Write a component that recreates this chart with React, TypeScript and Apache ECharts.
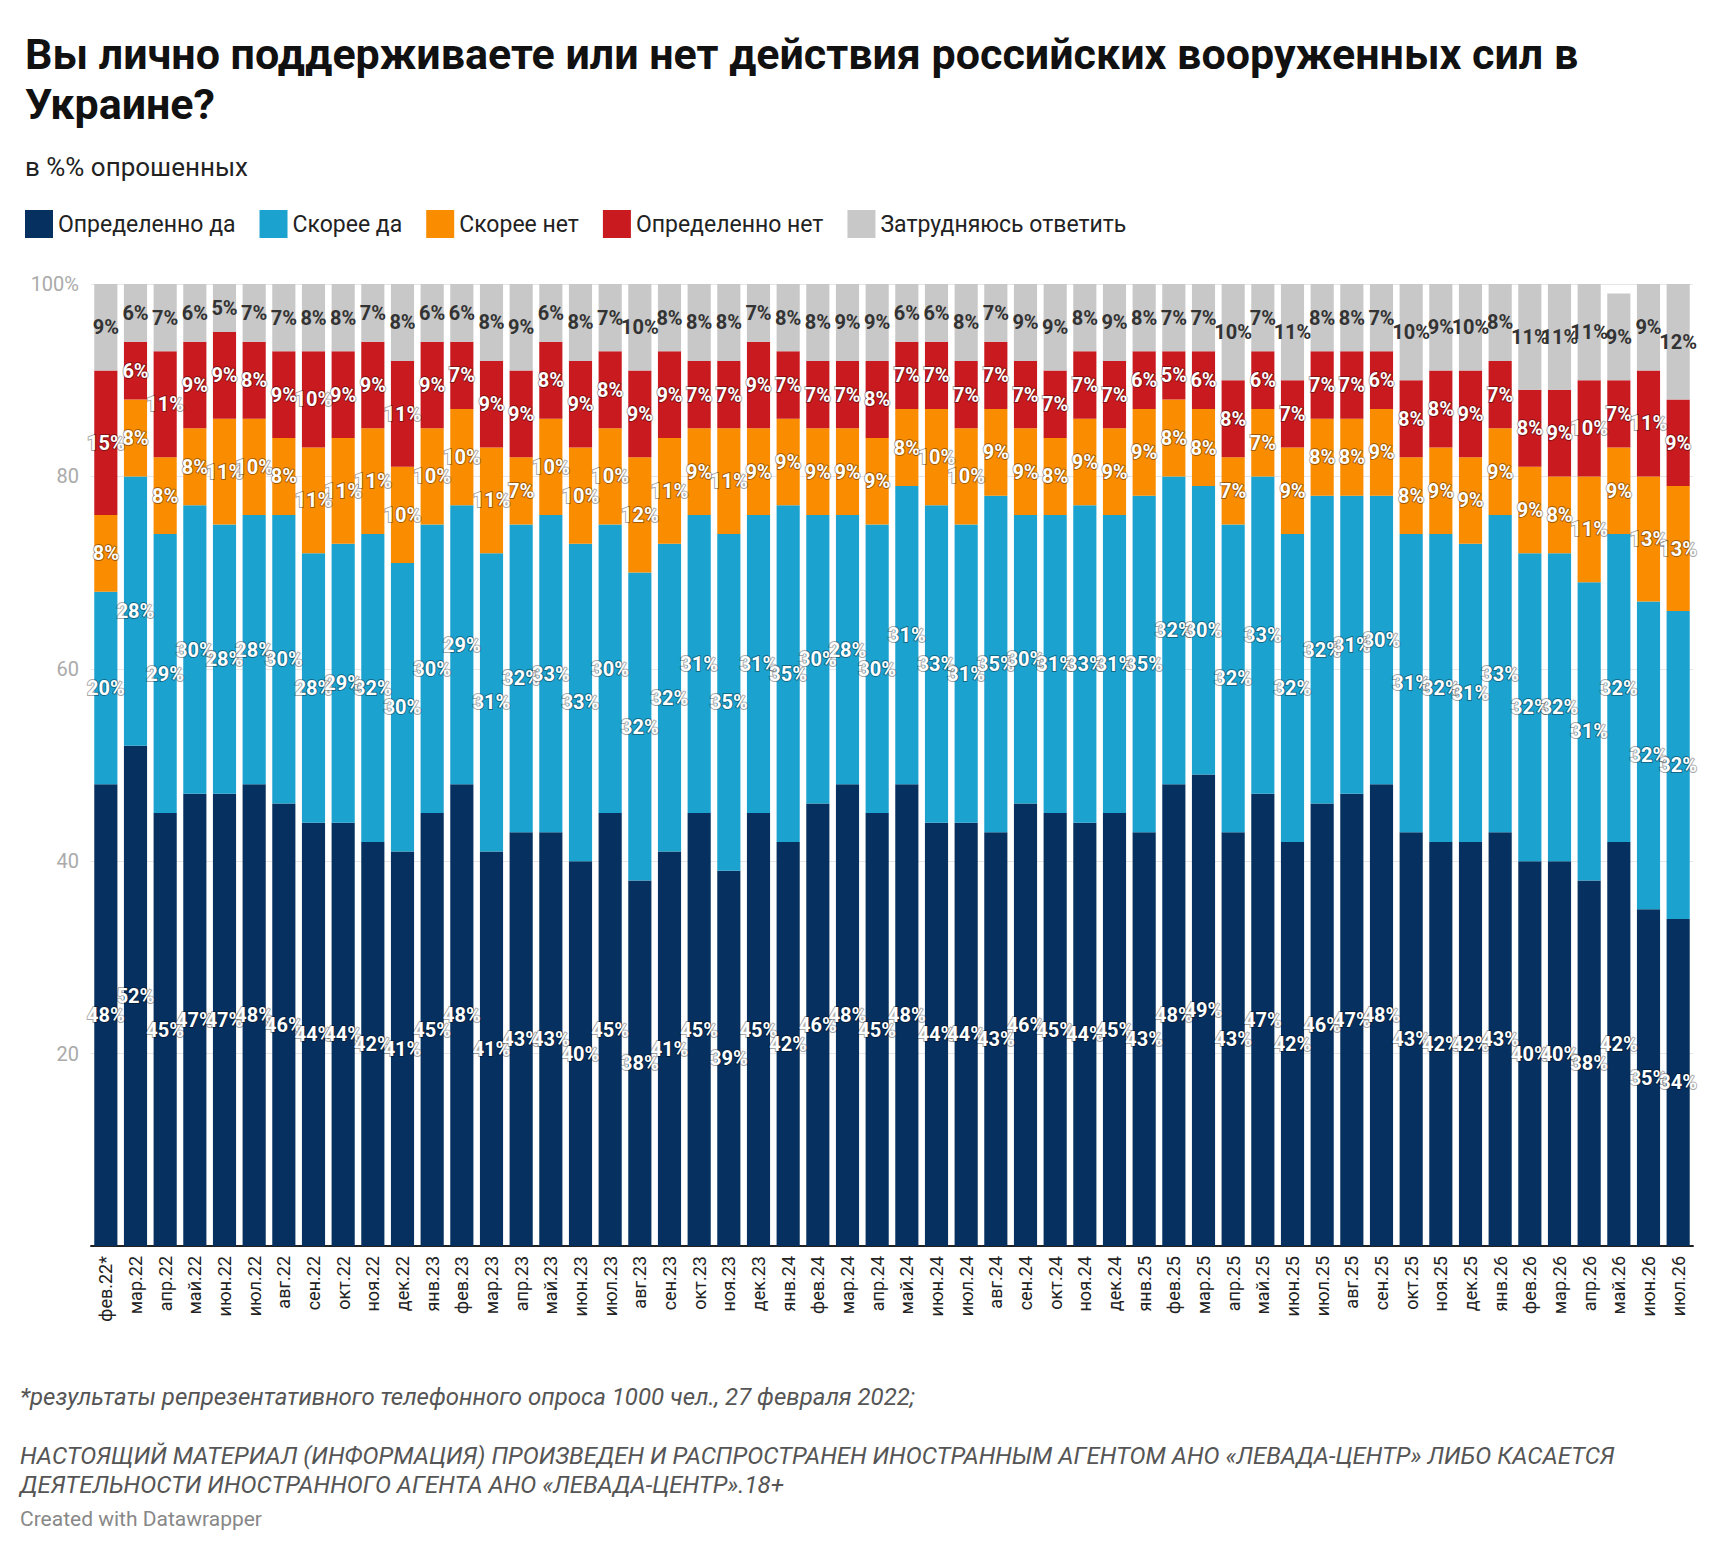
import React, { useEffect, useRef } from "react";
import * as echarts from "echarts";

const months = [
  "фев.22*", "мар.22", "апр.22", "май.22", "июн.22", "июл.22", "авг.22", "сен.22", "окт.22", "ноя.22", "дек.22",
  "янв.23", "фев.23", "мар.23", "апр.23", "май.23", "июн.23", "июл.23", "авг.23", "сен.23", "окт.23", "ноя.23", "дек.23",
  "янв.24", "фев.24", "мар.24", "апр.24", "май.24", "июн.24", "июл.24", "авг.24", "сен.24", "окт.24", "ноя.24", "дек.24",
  "янв.25", "фев.25", "мар.25", "апр.25", "май.25", "июн.25", "июл.25", "авг.25", "сен.25", "окт.25", "ноя.25", "дек.25",
  "янв.26", "фев.26", "мар.26", "апр.26", "май.26", "июн.26", "июл.26",
];

const definitelyYes = [48, 52, 45, 47, 47, 48, 46, 44, 44, 42, 41, 45, 48, 41, 43, 43, 40, 45, 38, 41, 45, 39, 45, 42, 46, 48, 45, 48, 44, 44, 43, 46, 45, 44, 45, 43, 48, 49, 43, 47, 42, 46, 47, 48, 43, 42, 42, 43, 40, 40, 38, 42, 35, 34];
const ratherYes = [20, 28, 29, 30, 28, 28, 30, 28, 29, 32, 30, 30, 29, 31, 32, 33, 33, 30, 32, 32, 31, 35, 31, 35, 30, 28, 30, 31, 33, 31, 35, 30, 31, 33, 31, 35, 32, 30, 32, 33, 32, 32, 31, 30, 31, 32, 31, 33, 32, 32, 31, 32, 32, 32];
const ratherNo = [8, 8, 8, 8, 11, 10, 8, 11, 11, 11, 10, 10, 10, 11, 7, 10, 10, 10, 12, 11, 9, 11, 9, 9, 9, 9, 9, 8, 10, 10, 9, 9, 8, 9, 9, 9, 8, 8, 7, 7, 9, 8, 8, 9, 8, 9, 9, 9, 9, 8, 11, 9, 13, 13];
const definitelyNo = [15, 6, 11, 9, 9, 8, 9, 10, 9, 9, 11, 9, 7, 9, 9, 8, 9, 8, 9, 9, 7, 7, 9, 7, 7, 7, 8, 7, 7, 7, 7, 7, 7, 7, 7, 6, 5, 6, 8, 6, 7, 7, 7, 6, 8, 8, 9, 7, 8, 9, 10, 7, 11, 9];
const hardToSay = [9, 6, 7, 6, 5, 7, 7, 8, 8, 7, 8, 6, 6, 8, 9, 6, 8, 7, 10, 8, 8, 8, 7, 8, 8, 9, 9, 6, 6, 8, 7, 9, 9, 8, 9, 8, 7, 7, 10, 7, 11, 8, 8, 7, 10, 9, 10, 8, 11, 11, 11, 9, 9, 12];

const seriesDefs = [
  { name: "Определенно да", data: definitelyYes, color: "#05305f", text: "#fff" },
  { name: "Скорее да", data: ratherYes, color: "#1ba2cf", text: "#fff" },
  { name: "Скорее нет", data: ratherNo, color: "#fa8c00", text: "#fff" },
  { name: "Определенно нет", data: definitelyNo, color: "#c91a1f", text: "#fff" },
  { name: "Затрудняюсь ответить", data: hardToSay, color: "#c8c8c8", text: "#333" },
];

const App: React.FC = () => {
  const chartRef = useRef<HTMLDivElement>(null);

  useEffect(() => {
    if (!chartRef.current) return;
    const chart = echarts.init(chartRef.current, null, { renderer: "svg" });
    const font = "Roboto, 'Noto Sans', sans-serif";

    const option = {
      animation: false,
      textStyle: { fontFamily: font },
      title: [
        {
          text: "Вы лично поддерживаете или нет действия российских вооруженных сил в\nУкраине?",
          left: 12,
          top: 16,
          textStyle: { fontSize: 43, fontWeight: "bold", color: "#111", lineHeight: 50, fontFamily: font },
        },
        {
          text: "в %% опрошенных",
          left: 12,
          top: 141,
          textStyle: { fontSize: 26, fontWeight: "normal", color: "#222", fontFamily: font },
        },
      ],
      legend: {
        left: 12,
        top: 197,
        icon: "rect",
        itemWidth: 28,
        itemHeight: 28,
        itemGap: 24,
        textStyle: { fontSize: 23, color: "#222", fontFamily: font },
        data: seriesDefs.map(s => s.name),
      },
      grid: { left: 83, right: 15, top: 276, bottom: 288 },
      xAxis: {
        type: "category",
        data: months,
        axisLine: { lineStyle: { color: "#222", width: 2 } },
        axisTick: { show: false },
        axisLabel: { rotate: 90, fontSize: 18, color: "#222", margin: 10, interval: 0 },
      },
      yAxis: {
        type: "value",
        min: 0,
        max: 100,
        interval: 20,
        axisLine: { show: false },
        axisTick: { show: false },
        splitLine: { lineStyle: { color: "#e6e6e6" } },
        axisLabel: {
          fontSize: 20,
          color: "#aaa",
          margin: 12,
          formatter: (v: number) => (v === 0 ? "" : v === 100 ? "100%" : String(v)),
        },
      },
      series: seriesDefs.map(s => ({
        name: s.name,
        type: "bar",
        stack: "total",
        barCategoryGap: "22%",
        data: s.data,
        itemStyle: { color: s.color },
        label: {
          show: true,
          position: "inside",
          formatter: "{c}%",
          fontSize: 20,
          fontWeight: "bold",
          color: s.text,
          textBorderColor: s.text === "#fff" ? "rgba(0,0,0,0.35)" : "transparent",
          textBorderWidth: s.text === "#fff" ? 2 : 0,
        },
      })),
      graphic: [
        {
          type: "text",
          left: 12,
          top: 1377,
          style: {
            text: "*результаты репрезентативного телефонного опроса 1000 чел., 27 февраля 2022;",
            fontSize: 24,
            fontStyle: "italic",
            fill: "#555",
            fontFamily: font,
          },
        },
        {
          type: "text",
          left: 12,
          top: 1433,
          style: {
            text: "НАСТОЯЩИЙ МАТЕРИАЛ (ИНФОРМАЦИЯ) ПРОИЗВЕДЕН И РАСПРОСТРАНЕН ИНОСТРАННЫМ АГЕНТОМ АНО «ЛЕВАДА-ЦЕНТР» ЛИБО КАСАЕТСЯ\nДЕЯТЕЛЬНОСТИ ИНОСТРАННОГО АГЕНТА АНО «ЛЕВАДА-ЦЕНТР».18+",
            fontSize: 24,
            lineHeight: 29,
            fontStyle: "italic",
            fill: "#555",
            fontFamily: font,
          },
        },
        {
          type: "text",
          left: 12,
          top: 1500,
          style: { text: "Created with Datawrapper", fontSize: 21, fill: "#888", fontFamily: font },
        },
      ],
    };

    chart.setOption(option);
    return () => chart.dispose();
  }, []);

  return <div ref={chartRef} style={{ width: 1700, height: 1526 }} />;
};

export default App;
